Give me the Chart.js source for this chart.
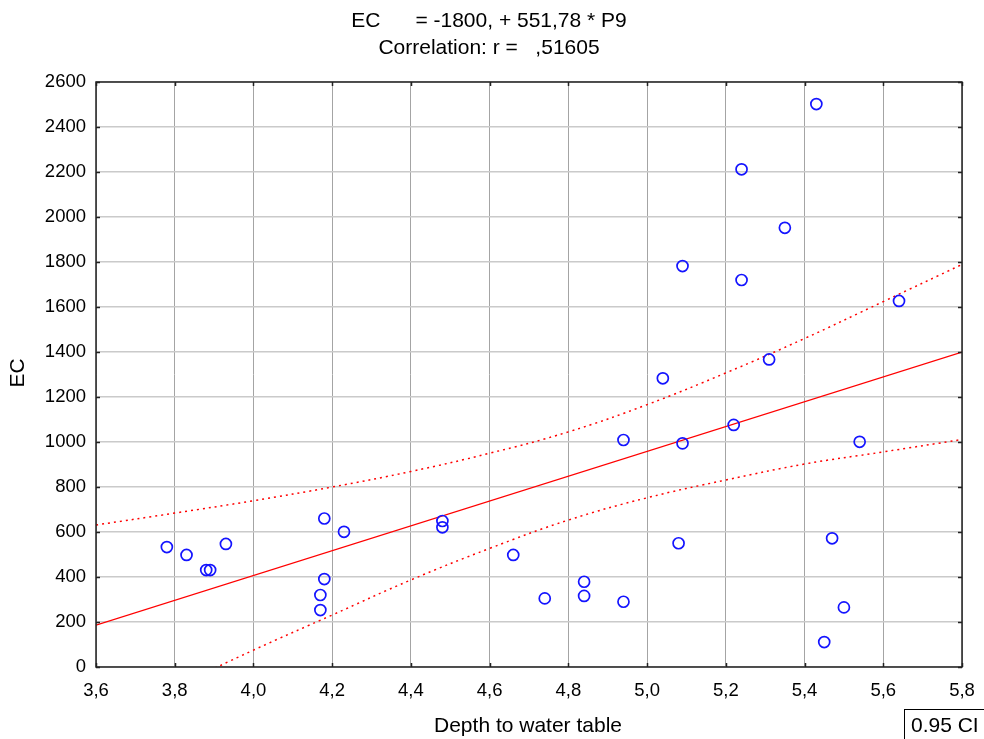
<!DOCTYPE html>
<html>
<head>
<meta charset="utf-8">
<script src="https://cdn.jsdelivr.net/npm/chart.js@4"></script>
<style>
  html, body { margin: 0; padding: 0; background: #fff; }
  canvas { display: block; }
</style>
</head>
<body>
<canvas id="ecChart" width="984" height="739"></canvas>
<script>
'use strict';

const depth = [3.78, 3.83, 3.88, 3.89, 3.93, 4.17, 4.17, 4.18, 4.18, 4.23, 4.48, 4.48,
  4.66, 4.74, 4.84, 4.84, 4.94, 4.94, 5.04, 5.08, 5.09, 5.09, 5.22, 5.24, 5.24,
  5.31, 5.35, 5.43, 5.45, 5.47, 5.50, 5.54, 5.64];
const ec = [533, 498, 431, 431, 547, 320, 253, 391, 660, 601, 649, 621,
  498, 305, 379, 316, 290, 1009, 1283, 550, 1782, 994, 1076, 2212, 1720,
  1367, 1952, 2502, 111, 572, 265, 1001, 1627];

// fitted line ends (EC = -1800 + 551,78 * P9)
const fitX = [3.6, 5.8];
const fitY = [186, 1400];

// 0.95 confidence band, read at each grid line
const bandX = [3.6, 3.8, 4.0, 4.2, 4.4, 4.6, 4.8, 5.0, 5.2, 5.4, 5.6, 5.8];
const bandUpper = [631, 684, 739, 800, 869, 950, 1045, 1166, 1307, 1460, 1624, 1789];
const bandLower = [-259, -90, 75, 231, 387, 527, 653, 752, 831, 902, 956, 1011];

const titleLines = ['EC      = -1800, + 551,78 * P9', 'Correlation: r =   ,51605'];
const xTitle = 'Depth to water table';
const yTitle = 'EC';
const ciLabel = '0.95 CI';

const FONT = "'Liberation Sans', Arial, sans-serif";

function toPoints(xs, ys) {
  return xs.map((x, i) => ({ x: x, y: ys[i] }));
}

const decorPlugin = {
  id: 'decor',
  afterDraw(chart) {
    const ctx = chart.ctx;
    const a = chart.chartArea;
    const xs = chart.scales.x;
    const ys = chart.scales.y;
    ctx.save();

    // inward tick marks
    ctx.strokeStyle = '#222';
    ctx.lineWidth = 1.5;
    ctx.beginPath();
    for (let t of xs.ticks) {
      let px = Math.round(xs.getPixelForValue(t.value)) + 0.5;
      ctx.moveTo(px, a.bottom); ctx.lineTo(px, a.bottom - 4);
      ctx.moveTo(px, a.top); ctx.lineTo(px, a.top + 4);
    }
    for (let t of ys.ticks) {
      let py = Math.round(ys.getPixelForValue(t.value)) + 0.5;
      ctx.moveTo(a.left, py); ctx.lineTo(a.left + 4, py);
      ctx.moveTo(a.right, py); ctx.lineTo(a.right - 4, py);
    }
    ctx.stroke();

    // frame
    ctx.lineWidth = 1.5;
    ctx.strokeRect(a.left, a.top, a.right - a.left, a.bottom - a.top);

    // titles
    ctx.fillStyle = '#000';
    ctx.font = '21px ' + FONT;
    ctx.textAlign = 'center';
    ctx.textBaseline = 'middle';
    ctx.fillText(titleLines[0], 489, 21);
    ctx.fillText(titleLines[1], 489, 48);

    ctx.fillText(xTitle, 528, 726);

    ctx.save();
    ctx.translate(18, 373);
    ctx.rotate(-Math.PI / 2);
    ctx.fillText(yTitle, 0, 0);
    ctx.restore();

    // CI legend box
    ctx.lineWidth = 1;
    ctx.strokeStyle = '#000';
    ctx.strokeRect(904.5, 709.5, 100, 40);
    ctx.textAlign = 'left';
    ctx.fillText(ciLabel, 911, 726);

    ctx.restore();
  }
};

const ctx = document.getElementById('ecChart').getContext('2d');

const ecChart = new Chart(ctx, {
  type: 'scatter',
  data: {
    datasets: [{
      label: 'EC',
      data: toPoints(depth, ec),
      pointRadius: 5.5,
      pointHoverRadius: 5.5,
      borderColor: '#1414ff',
      backgroundColor: 'rgba(0,0,0,0)',
      borderWidth: 1.7
    }, {
      label: 'fit',
      data: toPoints(fitX, fitY),
      showLine: true,
      pointRadius: 0,
      borderColor: '#ff0000',
      borderWidth: 1.3
    }, {
      label: 'upper',
      data: toPoints(bandX, bandUpper),
      showLine: true,
      pointRadius: 0,
      tension: 0.4,
      borderColor: '#ff0000',
      borderWidth: 1.5,
      borderDash: [2, 4]
    }, {
      label: 'lower',
      data: toPoints(bandX, bandLower),
      showLine: true,
      pointRadius: 0,
      tension: 0.4,
      borderColor: '#ff0000',
      borderWidth: 1.5,
      borderDash: [2, 4]
    }]
  },
  options: {
    responsive: false,
    animation: false,
    events: [],
    layout: { padding: { top: 82, right: 22, left: 0, bottom: 0 } },
    plugins: {
      legend: { display: false },
      title: { display: false },
      tooltip: { enabled: false }
    },
    scales: {
      x: {
        type: 'linear',
        min: 3.6,
        max: 5.8,
        border: { display: false },
        grid: { color: '#a4a4a4', lineWidth: 1, drawTicks: false },
        ticks: {
          stepSize: 0.2,
          padding: 13,
          color: '#000',
          font: { family: FONT, size: 18.5 },
          maxRotation: 0,
          callback: (v) => v.toFixed(1).replace('.', ',')
        },
        afterFit: (scale) => {
          scale.height = 72;
          scale.paddingLeft = 0;
          scale.paddingRight = 0;
        }
      },
      y: {
        min: 0,
        max: 2600,
        border: { display: false },
        grid: { color: '#cacaca', lineWidth: 1.5, drawTicks: false },
        ticks: {
          stepSize: 200,
          padding: 10,
          color: '#000',
          font: { family: FONT, size: 18.5 },
          callback: (v) => String(v)
        },
        afterFit: (scale) => { scale.width = 96; }
      }
    }
  },
  plugins: [decorPlugin]
});
</script>
</body>
</html>
